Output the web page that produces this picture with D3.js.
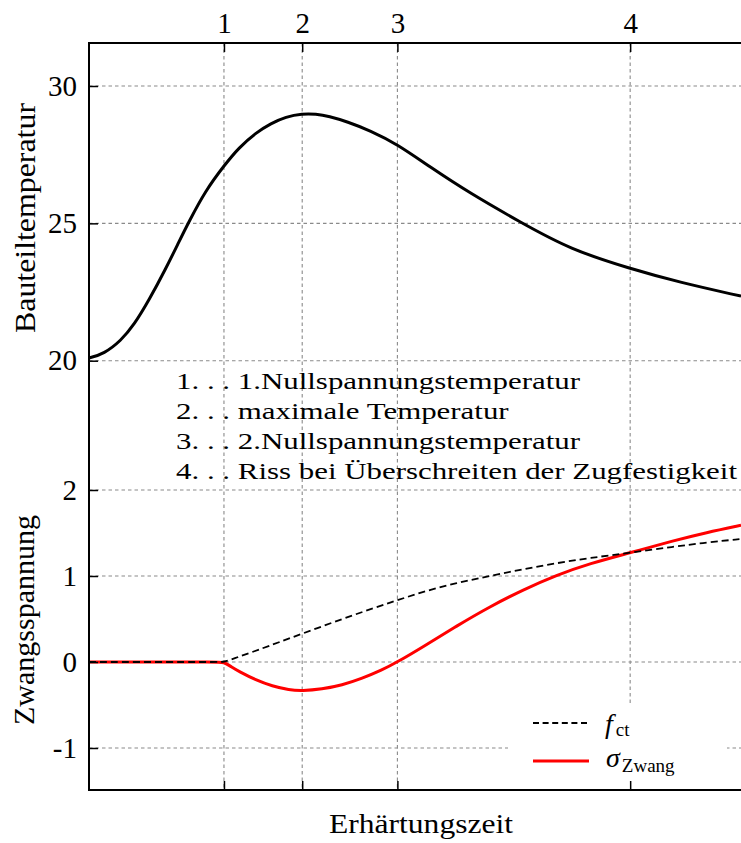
<!DOCTYPE html>
<html>
<head>
<meta charset="utf-8">
<script src="https://cdn.jsdelivr.net/npm/d3@7"></script>
<style>
html,body{margin:0;padding:0;background:#fff;}
svg{display:block;}
</style>
</head>
<body>
<svg id="chart" width="741" height="843"></svg>
<script>
// ---------- data ----------
const keyTimes = [20.7, 32.7, 47.3, 83.0];
const keyLabels = ["1", "2", "3", "4"];

const tempTicks = [20, 25, 30];
const stressTicks = [-1, 0, 1, 2];
const stressTickLabels = ["-1", "0", "1", "2"];

const tempTime = [0, 2.3, 4.9, 6.9, 9.2, 11.8, 13.8, 15.3, 17.9, 20.7, 23.0, 25.6, 27.9, 30.2, 32.7, 34.8, 36.8, 39.6, 43.1, 47.3, 52.3, 58.4, 66.1, 73.8, 83.0, 90.6, 100];
const tempValue = [20.1, 20.25, 20.73, 21.3, 22.2, 23.36, 24.33, 25.05, 26.2, 27.1, 27.76, 28.3, 28.64, 28.88, 28.99, 28.98, 28.9, 28.7, 28.38, 27.88, 27.05, 26.1, 25.05, 24.05, 23.35, 22.85, 22.35];

const fctTime = [0, 10, 19.5, 20.7, 22.0, 25.6, 32.7, 41.0, 46.2, 51.3, 56.4, 61.5, 66.6, 71.7, 76.8, 83.0, 89.6, 94.7, 100];
const fctValue = [0, 0, 0, 0, 0.035, 0.13, 0.33, 0.56, 0.69, 0.82, 0.92, 1.0, 1.08, 1.15, 1.21, 1.27, 1.34, 1.39, 1.43];

const sigTime = [0, 10, 19.5, 20.7, 21.8, 23.0, 25.6, 28.1, 30.7, 32.7, 35.7, 38.8, 41.9, 44.9, 47.3, 51.3, 56.4, 61.5, 66.6, 71.7, 76.8, 83.0, 89.6, 94.7, 100];
const sigValue = [0, 0, 0, 0, -0.055, -0.11, -0.21, -0.28, -0.325, -0.335, -0.315, -0.27, -0.19, -0.095, 0, 0.18, 0.42, 0.645, 0.84, 1.01, 1.145, 1.27, 1.41, 1.505, 1.59];

const notes = [
  "1. . . 1.Nullspannungstemperatur",
  "2. . . maximale Temperatur",
  "3. . . 2.Nullspannungstemperatur",
  "4. . . Riss bei \u00dcberschreiten der Zugfestigkeit"
];
const xLabel = "Erh\u00e4rtungszeit";
const yLabelTop = "Bauteiltemperatur";
const yLabelBottom = "Zwangsspannung";

// ---------- layout ----------
const svg = d3.select("#chart");
const FONT = "'Liberation Serif', 'DejaVu Serif', serif";
const L = 89, R = 742, T = 43, B = 790;

const x = d3.scaleLinear().domain([0, 100]).range([89, 741]);
const yT = d3.scaleLinear().domain([20, 30]).range([360.7, 86]);
const yS = d3.scaleLinear().domain([-1, 2]).range([748, 490]);

const gridColor = "#8a8a8a";

// grid
const grid = svg.append("g").attr("stroke", gridColor).attr("stroke-width", 1.1).attr("stroke-dasharray", "3.5,3");
grid.selectAll("line.h1").data(tempTicks).join("line")
  .attr("x1", L).attr("x2", R).attr("y1", d => yT(d)).attr("y2", d => yT(d));
grid.selectAll("line.h2").data(stressTicks).join("line")
  .attr("x1", L).attr("x2", R).attr("y1", d => yS(d)).attr("y2", d => yS(d));
grid.selectAll("line.v").data(keyTimes).join("line")
  .attr("x1", d => x(d)).attr("x2", d => x(d)).attr("y1", T).attr("y2", B);

// legend background
svg.append("rect").attr("x", 508).attr("y", 703).attr("width", 219).attr("height", 86).attr("fill", "#fff");

// curves
const line = (ys) => d3.line().x(d => x(d[0])).y(d => ys(d[1])).curve(d3.curveBasis);

svg.append("path")
  .datum(d3.zip(tempTime, tempValue))
  .attr("d", line(yT))
  .attr("fill", "none").attr("stroke", "#000").attr("stroke-width", 3).attr("stroke-linejoin", "round");

svg.append("path")
  .datum(d3.zip(sigTime, sigValue))
  .attr("d", line(yS))
  .attr("fill", "none").attr("stroke", "#ff0000").attr("stroke-width", 3).attr("stroke-linejoin", "round");

svg.append("path")
  .datum(d3.zip(fctTime, fctValue))
  .attr("d", line(yS))
  .attr("fill", "none").attr("stroke", "#000").attr("stroke-width", 1.8).attr("stroke-dasharray", "7,4");

// axes (ticks inward)
function styleAxis(g) {
  g.select(".domain").remove();
  g.selectAll(".tick line").attr("stroke", "#000").attr("stroke-width", 1.5);
  g.selectAll("text").attr("font-family", FONT).attr("font-size", 29).attr("fill", "#000");
}
svg.append("g").attr("transform", `translate(0,${T})`)
  .call(d3.axisTop(x).tickValues(keyTimes).tickFormat((d, i) => keyLabels[i]).tickSize(-9).tickSizeOuter(0).tickPadding(10))
  .call(styleAxis);
svg.append("g").attr("transform", `translate(0,${B})`)
  .call(d3.axisBottom(x).tickValues(keyTimes).tickFormat("").tickSize(-9).tickSizeOuter(0))
  .call(styleAxis);
svg.append("g").attr("transform", `translate(${L},0)`)
  .call(d3.axisLeft(yT).tickValues(tempTicks).tickFormat(d3.format("d")).tickSize(-9).tickSizeOuter(0).tickPadding(12))
  .call(styleAxis);
svg.append("g").attr("transform", `translate(${L},0)`)
  .call(d3.axisLeft(yS).tickValues(stressTicks).tickFormat((d, i) => stressTickLabels[i]).tickSize(-9).tickSizeOuter(0).tickPadding(12))
  .call(styleAxis);

// frame (right side outside the visible area)
svg.append("path")
  .attr("d", `M${R + 2},${T}H${L}V${B}H${R + 2}`)
  .attr("fill", "none").attr("stroke", "#000").attr("stroke-width", 2);

// helpers
function fit(sel, w) {
  sel.attr("textLength", w).attr("lengthAdjust", "spacingAndGlyphs");
}

// axis labels
svg.append("text").text(xLabel)
  .attr("x", 329).attr("y", 833)
  .attr("font-family", FONT).attr("font-size", 27).call(fit, 184);

svg.append("text").text(yLabelTop)
  .attr("transform", "translate(35,333) rotate(-90)")
  .attr("font-family", FONT).attr("font-size", 29).call(fit, 230);

svg.append("text").text(yLabelBottom)
  .attr("transform", "translate(34,725) rotate(-90)")
  .attr("font-family", FONT).attr("font-size", 29).call(fit, 210);

// annotations
const noteG = svg.append("g").attr("font-family", FONT).attr("font-size", 22.5).attr("fill", "#000");
const noteTexts = noteG.selectAll("text").data(notes).join("text")
  .attr("x", 176).attr("y", (d, i) => 389 + i * 30)
  .text(d => d);
const natural = noteTexts.nodes().map(n => n.getComputedTextLength());
const k = 561 / natural[3];
noteTexts.each(function (d, i) { d3.select(this).call(fit, natural[i] * k); });

// legend
const lg = svg.append("g").attr("font-family", FONT);
lg.append("line").attr("x1", 533).attr("x2", 588).attr("y1", 723).attr("y2", 723)
  .attr("stroke", "#000").attr("stroke-width", 1.8).attr("stroke-dasharray", "6,3.6");
lg.append("line").attr("x1", 533).attr("x2", 589).attr("y1", 761).attr("y2", 761)
  .attr("stroke", "#ff0000").attr("stroke-width", 3);
const t1 = lg.append("text").attr("x", 605).attr("y", 733).attr("font-size", 28);
t1.append("tspan").attr("font-style", "italic").text("f");
t1.append("tspan").attr("font-size", 19).attr("dx", 3).attr("dy", 3).text("ct");
const t2 = lg.append("text").attr("x", 606).attr("y", 767).attr("font-size", 28);
t2.append("tspan").attr("font-style", "italic").text("\u03c3");
t2.append("tspan").attr("font-size", 19).attr("dx", 2).attr("dy", 5).text("Zwang");
</script>
</body>
</html>
